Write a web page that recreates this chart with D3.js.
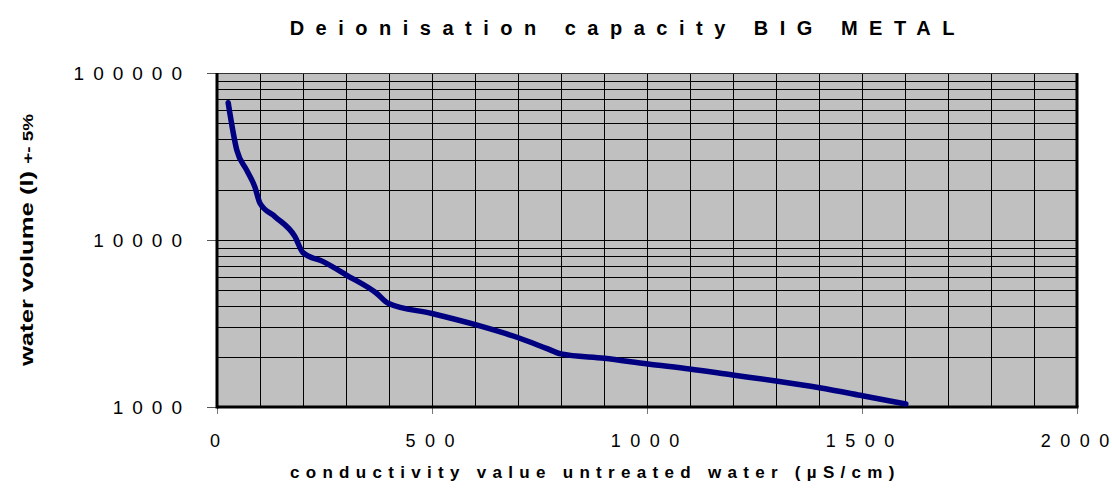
<!DOCTYPE html>
<html>
<head>
<meta charset="utf-8">
<script src="https://cdn.jsdelivr.net/npm/d3@7/dist/d3.min.js"></script>
<style>
  html, body { margin: 0; padding: 0; background: #fff; }
  svg { display: block; }
  text { font-family: "Liberation Sans", Arial, sans-serif; fill: #000; }
</style>
</head>
<body>
<svg id="chart" width="1112" height="488"></svg>
<script>
// ---- data ----
const conductivity = [26, 46, 69, 88, 100, 135, 181, 200, 247, 301, 371, 398, 500, 603, 704, 766, 800, 901, 1002, 1099, 1199, 1300, 1401, 1501, 1602];
const volume       = [66400, 34600, 26200, 20800, 16600, 13800, 10500, 8400, 7420, 6170, 4800, 4180, 3630, 3100, 2580, 2245, 2080, 1957, 1808, 1689, 1555, 1432, 1305, 1169, 1042];
const xTicks = [0, 500, 1000, 1500, 2000];
const yTicks = [1000, 10000, 100000];
const titleText = "Deionisation capacity BIG METAL";
const xTitleText = "conductivity value untreated water (\u00B5S/cm)";
const yTitleMain = "water volume (l) ";
const yTitleSmall = "+- 5%";

const svg = d3.select("#chart");
const m = { left: 217, right: 1077, top: 73, bottom: 407 };

const x = d3.scaleLinear().domain([0, 2000]).range([m.left, m.right]);
const y = d3.scaleLog().domain([1000, 100000]).range([m.bottom, m.top]);

// helper: letter-spaced text without trailing spacing on the last glyph
function spaced(sel, str, spacing) {
  sel.append("tspan").style("letter-spacing", spacing + "px").text(str.slice(0, -1));
  sel.append("tspan").style("letter-spacing", "0px").text(str.slice(-1));
}

// plot background
svg.append("rect")
  .attr("x", m.left).attr("y", m.top)
  .attr("width", m.right - m.left).attr("height", m.bottom - m.top)
  .attr("fill", "#C0C0C0");

// grid
const g = svg.append("g").attr("shape-rendering", "crispEdges");
const vGrid = d3.range(100, 2000, 100);
g.selectAll("line.v").data(vGrid).join("line")
  .attr("x1", d => Math.round(x(d)) + 0.5).attr("x2", d => Math.round(x(d)) + 0.5)
  .attr("y1", m.top).attr("y2", m.bottom)
  .attr("stroke", "#000").attr("stroke-width", 1);
const hGrid = [];
[1000, 10000].forEach(dec => { for (let k = 2; k <= 10; k++) hGrid.push(dec * k); });
g.selectAll("line.h").data(hGrid).join("line")
  .attr("x1", m.left).attr("x2", m.right)
  .attr("y1", d => Math.round(y(d)) + 0.5).attr("y2", d => Math.round(y(d)) + 0.5)
  .attr("stroke", "#000").attr("stroke-width", 1);

// top border
g.append("line").attr("x1", m.left).attr("x2", m.right)
  .attr("y1", m.top + 0.5).attr("y2", m.top + 0.5).attr("stroke", "#333");

// axes ticks
const yAxis = d3.axisLeft(y).tickValues(yTicks).tickSize(10).tickFormat("");
svg.append("g").attr("transform", `translate(${m.left},0)`).call(yAxis)
  .call(s => s.select(".domain").remove())
  .call(s => s.selectAll(".tick line").attr("stroke", "#555"));
const xAxis = d3.axisBottom(x).tickValues(xTicks).tickSize(7).tickFormat("");
svg.append("g").attr("transform", `translate(0,${m.bottom})`).call(xAxis)
  .call(s => s.select(".domain").remove())
  .call(s => s.selectAll(".tick line").attr("stroke", "#777"));

// thick axis lines
svg.append("line").attr("x1", m.left).attr("x2", m.left).attr("y1", m.top).attr("y2", m.bottom + 1.5)
  .attr("stroke", "#000").attr("stroke-width", 3);
svg.append("line").attr("x1", m.left).attr("x2", m.right + 1.5).attr("y1", m.bottom).attr("y2", m.bottom)
  .attr("stroke", "#000").attr("stroke-width", 3);
svg.append("line").attr("x1", m.right).attr("x2", m.right).attr("y1", m.top).attr("y2", m.bottom)
  .attr("stroke", "#000").attr("stroke-width", 3);

// tick labels
svg.append("g").selectAll("text").data(yTicks).join("text")
  .attr("x", 182).attr("y", d => y(d))
  .attr("dy", "0.36em")
  .attr("text-anchor", "end")
  .style("font-size", "19px")
  .each(function(d) { spaced(d3.select(this), String(d), 9); });
svg.append("g").selectAll("text").data(xTicks).join("text")
  .attr("x", d => x(d) - 2).attr("y", 441)
  .attr("dy", "0.36em")
  .attr("text-anchor", "middle")
  .style("font-size", "18px")
  .each(function(d) { spaced(d3.select(this), String(d), 9.5); });

// curve
const line = d3.line()
  .x((d, i) => x(conductivity[i]))
  .y((d, i) => y(volume[i]))
  .curve(d3.curveMonotoneX);
svg.append("path")
  .datum(volume)
  .attr("d", line)
  .attr("fill", "none")
  .attr("stroke", "#000080")
  .attr("stroke-width", 5.5)
  .attr("stroke-linejoin", "round")
  .attr("stroke-linecap", "round");

// title
svg.append("text")
  .attr("x", 622).attr("y", 28).attr("dy", "0.36em")
  .attr("text-anchor", "middle")
  .style("font-size", "20px").style("font-weight", "bold")
  .call(s => spaced(s, titleText, 11.5));

// x title
svg.append("text")
  .attr("x", 290).attr("y", 472).attr("dy", "0.36em")
  .attr("text-anchor", "start")
  .style("font-size", "17px").style("font-weight", "bold")
  .call(s => spaced(s, xTitleText, 6.3));

// y title (stretched along its length, as in the reference)
const yt = svg.append("text")
  .attr("transform", "translate(27,240) rotate(-90) scale(1.35,1)")
  .attr("dy", "0.36em")
  .attr("text-anchor", "middle")
  .style("font-weight", "bold");
yt.append("tspan").style("font-size", "19px").text(yTitleMain);
yt.append("tspan").style("font-size", "14px").text(yTitleSmall);
</script>
</body>
</html>
